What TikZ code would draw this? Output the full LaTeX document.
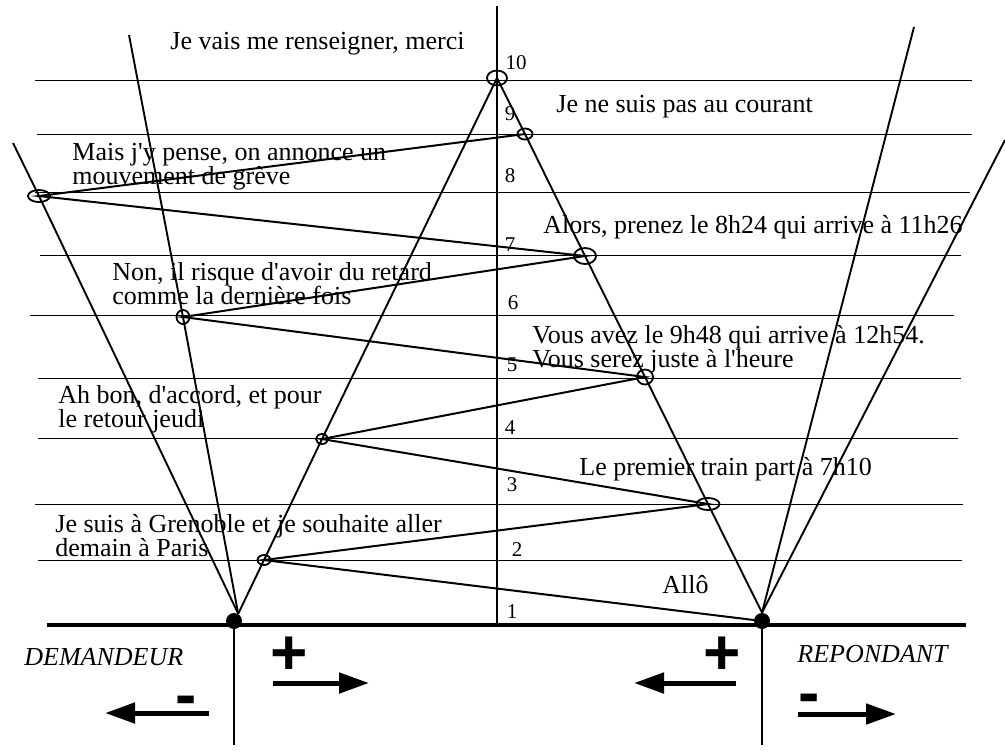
\documentclass[tikz,border=0pt]{standalone}
\usepackage{fontspec}
\setmainfont{Liberation Serif}[Ligatures=TeXOff]
\newfontfamily\signfont{Liberation Sans}
\usetikzlibrary{arrows.meta,shapes.geometric}
\tikzset{
	hline/.style={line width=0.5pt},
	fan/.style={line width=0.95pt},
	replica/.style={line width=1pt},
	oval/.style={draw, ellipse, inner sep=0pt, line width=0.9pt},
	party/.style={circle, fill=black, inner sep=0pt, minimum size=8pt},
	says/.style={anchor=base west, inner sep=0pt, align=left, font=\fontsize{13}{12}\selectfont},
	num/.style={inner sep=0pt, font=\fontsize{10.5}{11}\selectfont},
	role/.style={anchor=base west, inner sep=0pt, font=\fontsize{13}{14}\selectfont\itshape},
	sign/.style={inner sep=0pt, font=\fontsize{32}{32}\selectfont\signfont\bfseries},
	pull/.style={line width=2.5pt, -{Triangle[length=15pt,width=10pt]}},
}

\begin{document}
\begin{tikzpicture}[x=0.5pt, y=-0.5pt]
		%%%%% START %%%%%
		\useasboundingbox (0,0) rectangle (1005,752);
		
		% lignes des tours de parole
		\foreach \y/\xa/\xb in {80/35/972, 134/37/972, 192/35/970, 255/40/961, 315/30/954, 378/38/961, 438/38/958, 504/35/963, 560/38/962}
			\draw[hline] (\xa,\y) -- (\xb,\y);
		
		% axe central
		\coordinate (top) at (497,6);
		\coordinate (bot) at (497,625);
		\draw[line width=0.75pt] (top) -- (bot);
		
		% les deux interlocuteurs
		\node[party] (dem) at (234,621) {};
		\node[party] (rep) at (762,621) {};
		\coordinate (bl) at (47,625);
		\coordinate (br) at (966,625);
		\draw[line width=2.4pt] (bl) -- (br);
		\coordinate (ddrop) at (234,745);
		\coordinate (rdrop) at (762,745);
		\draw[line width=0.8pt] (dem.center) -- (ddrop);
		\draw[line width=0.8pt] (rep.center) -- (rdrop);
		
		% points de rencontre
		\node[oval, minimum width=10pt, minimum height=7.5pt] (e10) at (497,78) {};
		\node[oval, minimum width=7.5pt, minimum height=5.5pt] (e9) at (525,134) {};
		\node[oval, minimum width=11pt, minimum height=6pt] (e8) at (39,196) {};
		\node[oval, minimum width=11pt, minimum height=8pt] (e7) at (585,256) {};
		\node[oval, minimum width=6.5pt, minimum height=7pt] (e6) at (183,317) {};
		\node[oval, minimum width=8pt, minimum height=7.5pt] (e5) at (645,377) {};
		\node[oval, minimum width=6pt, minimum height=5pt] (e4) at (322,439) {};
		\node[oval, minimum width=11.5pt, minimum height=6pt] (e3) at (708,504) {};
		\node[oval, minimum width=6.5pt, minimum height=5pt] (e2) at (264,560) {};
		
		% eventails
		\coordinate (dfar) at (13,143);
		\coordinate (dnear) at (129,35);
		\coordinate (rnear) at (914,27);
		\coordinate (rfar) at (1005,140);
		\draw[fan] (dem.60) -- (e8.center) -- (dfar);
		\draw[fan] (dem.60) -- (e6.center) -- (dnear);
		\draw[fan] (rep.north) -- (rnear);
		\draw[fan] (rep.north) -- (rfar);
		\draw[fan] (dem.60) -- (e2.center) -- (e4.center) -- (e10.center) -- (e9.center) -- (e7.center) -- (e5.center) -- (e3.center) -- (rep.north);
		
		% echanges
		\draw[replica] (rep.center) -- (e2.center) -- (e3.center) -- (e4.center) -- (e5.center) -- (e6.center) -- (e7.center) -- (e8.center) -- (e9.center);
		
		% numeros
		\foreach \n/\x/\y in {10/516/63, 9/510/114, 8/510/176, 7/510/245, 6/513/303, 5/512/365, 4/510/428, 3/512/485, 2/517/550, 1/512/612}
			\node[num] (n\n) at (\x,\y) {\n};
		
		% repliques (base = derniere ligne)
		\node[says] (t10) at (170,49) {Je vais me renseigner, merci};
		\node[says] (t9) at (556,112) {Je ne suis pas au courant};
		\node[says] (t8) at (72,184) {Mais j'y pense, on annonce un\\mouvement de grève};
		\node[says] (t7) at (543,233) {Alors, prenez le 8h24 qui arrive à 11h26};
		\node[says] (t6) at (112,304) {Non, il risque d'avoir du retard\\comme la dernière fois};
		\node[says] (t5) at (532,367) {Vous avez le 9h48 qui arrive à 12h54.\\Vous serez juste à l'heure};
		\node[says] (t4) at (58,427) {Ah bon, d'accord, et pour\\le retour jeudi};
		\node[says] (t3) at (579,475) {Le premier train part à 7h10};
		\node[says] (t2) at (55,556) {Je suis à Grenoble et je souhaite aller\\demain à Paris};
		\node[says] (t1) at (662,593) {Allô};
		
		\node[role] (demname) at (24,665) {DEMANDEUR};
		\node[role] (repname) at (797,662) {REPONDANT};
		
		% sens
		\node[sign] (dplus) at (289,656) {+};
		\node[sign] (dminus) at (186,706) {-};
		\node[sign] (rplus) at (722,656) {+};
		\node[sign] (rminus) at (809,704) {-};
		\coordinate (dm0) at (209,713);
		\coordinate (dm1) at (105,713);
		\coordinate (dp0) at (273,683);
		\coordinate (dp1) at (369,683);
		\coordinate (rp0) at (736,683);
		\coordinate (rp1) at (634,683);
		\coordinate (rm0) at (798,714);
		\coordinate (rm1) at (896,714);
		\draw[pull] (dm0) -- (dm1);
		\draw[pull] (dp0) -- (dp1);
		\draw[pull] (rp0) -- (rp1);
		\draw[pull] (rm0) -- (rm1);
		
		%%%%% END %%%%%
\end{tikzpicture}
\end{document}
